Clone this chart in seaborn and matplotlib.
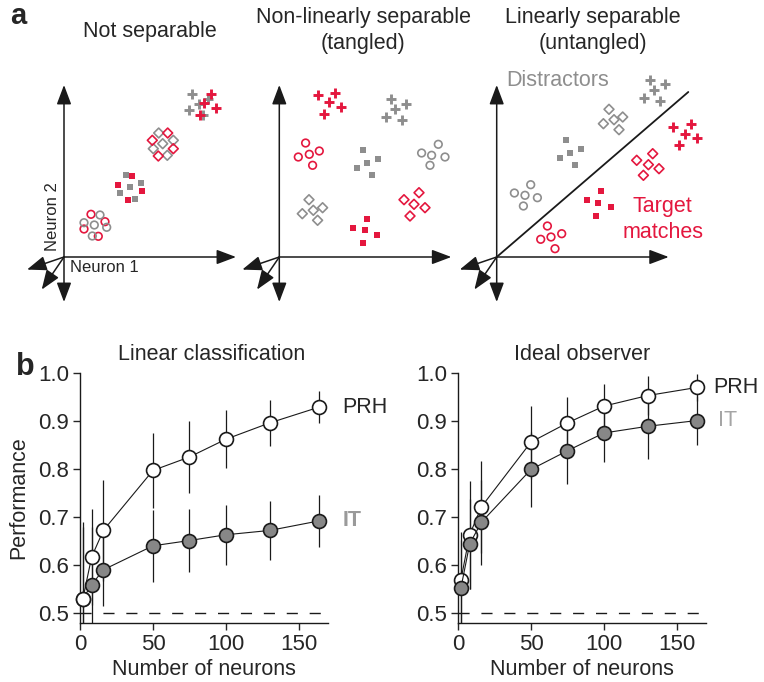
import numpy as np
import pandas as pd
import matplotlib.pyplot as plt
import seaborn as sns

# ---------------- panel b data ----------------
n_neurons = [2, 8, 16, 50, 75, 100, 130, 164]

lin_prh = [0.530, 0.617, 0.672, 0.797, 0.825, 0.862, 0.896, 0.929]
lin_prh_err = [0.160, 0.100, 0.105, 0.078, 0.075, 0.060, 0.048, 0.033]
lin_it = [0.530, 0.559, 0.590, 0.640, 0.651, 0.663, 0.672, 0.692]
lin_it_err = [0.150, 0.120, 0.075, 0.075, 0.065, 0.063, 0.061, 0.054]

ideal_prh = [0.569, 0.663, 0.721, 0.856, 0.896, 0.931, 0.953, 0.970]
ideal_prh_err = [0.100, 0.112, 0.096, 0.076, 0.055, 0.046, 0.040, 0.028]
ideal_it = [0.552, 0.644, 0.689, 0.799, 0.838, 0.875, 0.889, 0.901]
ideal_it_err = [0.100, 0.094, 0.088, 0.079, 0.069, 0.060, 0.068, 0.052]

# ---------------- panel a data (schematic responses, neuron 1 / neuron 2) ----------------
# (x, y) pairs per cluster; 'T' = target match (red), 'D' = distractor (gray)
not_sep = {
    ('o', 'T'): [(27, 42.7), (41, 35.3), (20, 28), (34.3, 20.7)],
    ('o', 'D'): [(36, 42), (20, 34.3), (30.3, 32), (42.7, 29.7), (28.3, 21)],
    ('s', 'D'): [(61.7, 82.3), (66, 70), (76.7, 74), (56, 64.3), (70.7, 58)],
    ('s', 'T'): [(68.3, 81), (54.3, 72), (78.3, 66), (64.3, 57)],
    ('D', 'D'): [(94.7, 124), (98.7, 113.3), (89.3, 108.3), (109.3, 116.7), (103.3, 101.7)],
    ('D', 'T'): [(88.3, 116.7), (103.7, 124), (109.3, 108.3), (94.3, 101)],
    ('+', 'D'): [(127.7, 162.7), (135, 153.3), (125, 146.7), (139.3, 141.7), (144.3, 158.3)],
    ('+', 'T'): [(146.7, 163.3), (140, 154.3), (152, 149.3), (136, 141.7)],
}
tangled = {
    ('+', 'T'): [(38.3, 161.7), (55.7, 164.3), (49.7, 155), (61.3, 150), (44.7, 142.7)],
    ('+', 'D'): [(111.7, 158.3), (126.7, 153.3), (115.7, 147.7), (106.7, 140), (122.3, 136.7)],
    ('o', 'T'): [(26.3, 114), (30, 102.7), (19, 100), (40, 106), (33.3, 91.7)],
    ('s', 'D'): [(84, 106.7), (88, 94.3), (99, 98.3), (78, 89.3), (93, 81.7)],
    ('o', 'D'): [(159, 112.7), (152.3, 101.7), (142.3, 104), (165.7, 100), (150.7, 91.7)],
    ('D', 'D'): [(29.7, 57.3), (43.3, 49.3), (34, 46.7), (23, 43.3), (38.3, 36.7)],
    ('s', 'T'): [(87.3, 38.3), (74, 29.3), (85.7, 27.3), (98, 22.3), (83.3, 14)],
    ('D', 'T'): [(139.7, 64.3), (124.7, 57.3), (134.7, 52.7), (145.7, 49.3), (130.7, 41)],
}
untangled = {
    ('+', 'D'): [(153.3, 176.7), (168.3, 173.3), (157.3, 166.7), (147.3, 159.3), (163.3, 156)],
    ('D', 'D'): [(112.3, 147.7), (126, 140), (117.3, 137.3), (106.7, 133.3), (122.3, 127.3)],
    ('s', 'D'): [(69.3, 116.7), (84, 108.3), (73.3, 104.3), (63.3, 99.3), (78.3, 91.7)],
    ('o', 'D'): [(34, 72.3), (17.7, 64), (28.3, 61.7), (40.7, 59.3), (26.7, 51)],
    ('+', 'T'): [(194, 133.3), (176, 130), (188.3, 123.3), (200, 119), (182.7, 111.7)],
    ('D', 'T'): [(156, 103.3), (140, 96.7), (151.7, 92.3), (162.3, 88.3), (146.7, 81.7)],
    ('s', 'T'): [(104, 66), (90, 56.7), (101.7, 54.3), (114.3, 50), (99.3, 41.3)],
    ('o', 'T'): [(50.7, 31), (44, 17.7), (54.3, 20), (65, 23.3), (58.3, 8.3)],
}
# neuron axes directions (up, right, two extra dims, down)
axis_tips = [(0, 172), (172, 0), (-37, -12.6), (-22.3, -32.6), (0, -45)]
boundary = [(0, 0), (191.6, 165)]

RED = '#e4173e'
GRAY = '#8e8e8e'
W, H = 764, 682

sns.set_theme(style='ticks')
plt.rcParams['font.family'] = ['Liberation Sans', 'DejaVu Sans']

fig = plt.figure(figsize=(W / 100, H / 100), dpi=100)


def fx(x):
    return x / W


def fy(y):
    return 1 - y / H


def schematic(origin_x, clusters):
    oy = 257
    ax = fig.add_axes([fx(origin_x - 50), fy(oy + 50), 260 / W, 235 / H])
    ax.set_xlim(-50, 210)
    ax.set_ylim(-50, 185)
    ax.axis('off')
    ax.patch.set_alpha(0)
    for tip in axis_tips:
        ax.annotate('', xy=tip, xytext=(0, 0),
                    arrowprops=dict(arrowstyle='-|>,head_length=0.85,head_width=0.32',
                                    lw=1.1, color='k', shrinkA=0, shrinkB=0,
                                    mutation_scale=14))
    for (shape, grp), pts in clusters.items():
        pts = np.array(pts)
        col = RED if grp == 'T' else GRAY
        if shape == '+':
            ax.scatter(pts[:, 0], pts[:, 1], marker='+', s=58, color=col, linewidths=2.1, zorder=3)
        elif shape == 's':
            ax.scatter(pts[:, 0], pts[:, 1], marker='s', s=19, color=col, linewidths=0, zorder=3)
        elif shape == 'D':
            ax.scatter(pts[:, 0], pts[:, 1], marker='D', s=25, facecolors='none',
                       edgecolors=col, linewidths=1.2, zorder=3)
        else:
            ax.scatter(pts[:, 0], pts[:, 1], marker='o', s=30, facecolors='none',
                       edgecolors=col, linewidths=1.2, zorder=3)
    return ax


ax1 = schematic(64, not_sep)
ax1.text(-11.5, 40, 'Neuron 2', rotation=90, ha='center', va='center', fontsize=12)
ax1.text(6, -10, 'Neuron 1', ha='left', va='center', fontsize=12)
ax2 = schematic(279.3, tangled)
ax3 = schematic(496.7, untangled)
bx, by = zip(*boundary)
ax3.plot(bx, by, color='k', lw=1.3)
ax3.text(10, 177, 'Distractors', color=GRAY, fontsize=15.5, ha='left', va='center')
ax3.text(166, 50.5, 'Target', color=RED, fontsize=15.5, ha='center', va='center')
ax3.text(166, 24.5, 'matches', color=RED, fontsize=15.5, ha='center', va='center')

fig.text(fx(150), fy(32), 'Not separable', ha='center', va='center', fontsize=15.5)
fig.text(fx(363), fy(18), 'Non-linearly separable', ha='center', va='center', fontsize=15.5)
fig.text(fx(363), fy(43), '(tangled)', ha='center', va='center', fontsize=15.5)
fig.text(fx(593), fy(18), 'Linearly separable', ha='center', va='center', fontsize=15.5)
fig.text(fx(593), fy(43), '(untangled)', ha='center', va='center', fontsize=15.5)
fig.text(fx(18), fy(16), 'a', ha='center', va='center', fontsize=21, fontweight='bold')
fig.text(fx(25), fy(367), 'b', ha='center', va='center', fontsize=22, fontweight='bold')


def perf_panel(left_px, prh, prh_err, it, it_err, title, it_style):
    ax = fig.add_axes([fx(left_px), fy(623), 248 / W, 250 / H])
    x = np.array(n_neurons)
    for vals, err in [(prh, prh_err), (it, it_err)]:
        vals, err = np.array(vals), np.array(err)
        ax.vlines(x, vals - err, vals + err, color='k', lw=0.9, zorder=1)
    ax.axhline(0.5, color='k', lw=1.0, dashes=(8, 8.5), zorder=0)
    df = pd.DataFrame({'n': n_neurons, 'PRH': prh, 'IT': it})
    order = ['PRH', 'IT'] if it_style['on_top'] else ['IT', 'PRH']
    for k, name in enumerate(order):
        fc = '#878787' if name == 'IT' else 'white'
        sns.lineplot(data=df, x='n', y=name, ax=ax, color='k', lw=0.8, marker='o',
                     markersize=10, markerfacecolor=fc, markeredgecolor='k',
                     markeredgewidth=1.2, zorder=3 + k, clip_on=False)
    ax.set_xlim(0, 170)
    ax.set_ylim(0.4792, 1.0)
    ax.set_xticks([0, 50, 100, 150])
    ax.set_yticks([0.5, 0.6, 0.7, 0.8, 0.9, 1.0])
    ax.set_yticklabels(['0.5', '0.6', '0.7', '0.8', '0.9', '1.0'])
    ax.tick_params(labelsize=16, length=5, width=1, direction='out', pad=3)
    for s in ['top', 'right']:
        ax.spines[s].set_visible(False)
    for s in ['left', 'bottom']:
        ax.spines[s].set_linewidth(1.0)
        ax.spines[s].set_color('k')
    ax.set_xlabel('Number of neurons', fontsize=15.5, labelpad=3)
    ax.set_ylabel('')
    ax.set_title(title, fontsize=15.5, pad=9, x=it_style['title_x'])
    ax.text(it_style['prh_x'], prh[-1], 'PRH', fontsize=15.5, ha='left', va='center')
    ax.text(it_style['it_x'], it[-1], 'IT', fontsize=15.5, ha='left', va='center',
            color=it_style['color'], fontweight=it_style['weight'])
    return ax


axb1 = perf_panel(80, lin_prh, lin_prh_err, lin_it, lin_it_err, 'Linear classification',
                  dict(on_top=False, title_x=0.53, prh_x=180, it_x=180, color='#9a9a9a', weight='bold'))
axb1.set_ylabel('Performance', fontsize=15.5, labelpad=6)
axb2 = perf_panel(458, ideal_prh, ideal_prh_err, ideal_it, ideal_it_err, 'Ideal observer',
                  dict(on_top=True, title_x=0.5, prh_x=175, it_x=178, color='#a5a5a5', weight='normal'))

fig.savefig('out.png', dpi=100)
